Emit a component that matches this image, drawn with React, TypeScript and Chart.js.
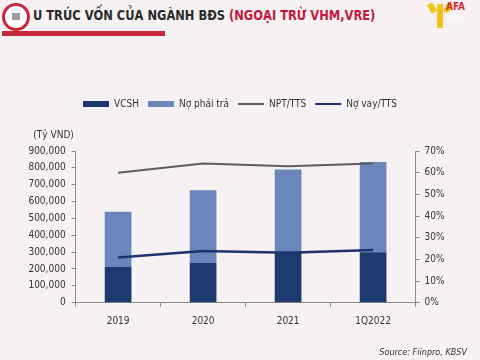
import React, { useEffect, useRef } from 'react';
import { Chart, registerables } from 'chart.js';

Chart.register(...registerables);

// ---- Data ----
const categories = ['2019', '2020', '2021', '1Q2022'];
const vcsh = [213000, 237000, 302000, 300000];
const noPhaiTra = [327000, 430000, 488000, 535000];
const nptTts = [60, 64.2, 63, 64.2];
const noVayTts = [20.9, 23.9, 23, 24.3];
const seriesLabels = ['VCSH', 'Nợ phải trả', 'NPT/TTS', 'Nợ vay/TTS'];
const leftMax = 900000;
const leftStep = 100000;
const rightMax = 70;
const rightStep = 10;
const unitLabel = '(Tỷ VND)';
const titleDark = 'U TRÚC VỐN CỦA NGÀNH BĐS ';
const titleRed = '(NGOẠI TRỪ VHM,VRE)';
const sourceText = 'Source: Fiinpro, KBSV';

const FONT = "'Liberation Sans Narrow', 'Arial Narrow', 'DejaVu Sans Condensed', sans-serif";
const BG = '#f6f1f3';
const AXIS = '#8a8a8a';
const TEXT = '#333333';

const unitPlugin = {
  id: 'unitLabel',
  afterDraw(chart: any) {
    const ctx = chart.ctx;
    const y = chart.scales.y;
    ctx.save();
    ctx.font = `10px ${FONT}`;
    ctx.fillStyle = TEXT;
    ctx.textAlign = 'center';
    ctx.textBaseline = 'middle';
    ctx.fillText(unitLabel, y.right - 22, chart.chartArea.top - 16);
    ctx.restore();
  },
};

export default function App() {
  const ref = useRef<HTMLCanvasElement | null>(null);

  useEffect(() => {
    if (!ref.current) return;
    const chart = new Chart(ref.current, {
      type: 'bar',
      data: {
        labels: categories,
        datasets: [
          {
            type: 'bar',
            label: seriesLabels[0],
            data: vcsh,
            backgroundColor: '#1d3a6f',
            borderWidth: 0,
            yAxisID: 'y',
            stack: 's',
            order: 2,
          },
          {
            type: 'bar',
            label: seriesLabels[1],
            data: noPhaiTra,
            backgroundColor: '#6987bb',
            borderWidth: 0,
            yAxisID: 'y',
            stack: 's',
            order: 2,
          },
          {
            type: 'line',
            label: seriesLabels[2],
            data: nptTts,
            borderColor: '#5f5f5f',
            backgroundColor: '#5f5f5f',
            borderWidth: 2,
            pointRadius: 0,
            tension: 0,
            yAxisID: 'y1',
            order: 1,
          },
          {
            type: 'line',
            label: seriesLabels[3],
            data: noVayTts,
            borderColor: '#1e3170',
            backgroundColor: '#1e3170',
            borderWidth: 2.5,
            pointRadius: 0,
            tension: 0,
            yAxisID: 'y1',
            order: 0,
          },
        ] as any,
      },
      options: {
        responsive: false,
        animation: false,
        devicePixelRatio: 1,
        font: { family: FONT, size: 10 },
        layout: { padding: { top: 90, left: 0, right: 0, bottom: 0 } },
        datasets: {
          bar: { barPercentage: 0.314, categoryPercentage: 1 },
        },
        plugins: {
          tooltip: { enabled: false },
          title: {
            display: true,
            text: '',
            position: 'top',
            weight: 500,
            font: { size: 10, lineHeight: 1.2 },
            padding: { top: 0, bottom: 20 },
          },
          legend: {
            display: true,
            position: 'top',
            align: 'center',
            labels: {
              usePointStyle: true,
              pointStyleWidth: 26,
              boxWidth: 26,
              boxHeight: 6,
              padding: 9,
              color: TEXT,
              font: { family: FONT, size: 10 },
              sort: (a: any, b: any) => a.datasetIndex - b.datasetIndex,
              generateLabels: (c: any) =>
                c.data.datasets.map((ds: any, i: number) => ({
                  text: ds.label,
                  fillStyle: ds.type === 'line' ? 'rgba(0,0,0,0)' : ds.backgroundColor,
                  strokeStyle: ds.type === 'line' ? ds.borderColor : ds.backgroundColor,
                  lineWidth: ds.type === 'line' ? 2 : 0,
                  pointStyle: ds.type === 'line' ? 'line' : 'rect',
                  hidden: false,
                  datasetIndex: i,
                  fontColor: TEXT,
                })),
            },
          },
        },
        scales: {
          x: {
            stacked: true,
            offset: true,
            grid: {
              display: true,
              drawOnChartArea: false,
              drawTicks: true,
              tickLength: 4,
              offset: true,
              color: AXIS,
            },
            border: { display: true, color: AXIS, width: 1 },
            ticks: { padding: 9, color: TEXT, font: { family: FONT, size: 10 } },
            afterFit: (s: any) => {
              s.height = 57.3;
            },
          },
          y: {
            type: 'linear',
            position: 'left',
            stacked: true,
            min: 0,
            max: leftMax,
            grid: { drawOnChartArea: false, drawTicks: true, tickLength: 4, color: AXIS },
            border: { display: true, color: AXIS, width: 1 },
            ticks: {
              stepSize: leftStep,
              padding: 6,
              color: TEXT,
              font: { family: FONT, size: 10 },
              callback: (v: any) => Number(v).toLocaleString('en-US'),
            },
            afterFit: (s: any) => {
              s.width = 75.6;
            },
          },
          y1: {
            type: 'linear',
            position: 'right',
            min: 0,
            max: rightMax,
            grid: { drawOnChartArea: false, drawTicks: true, tickLength: 4, color: AXIS },
            border: { display: true, color: AXIS, width: 1 },
            ticks: {
              stepSize: rightStep,
              padding: 5,
              color: TEXT,
              font: { family: FONT, size: 10 },
              callback: (v: any) => `${v}%`,
            },
            afterFit: (s: any) => {
              s.width = 64.4;
            },
          },
        },
      } as any,
      plugins: [unitPlugin],
    });
    return () => chart.destroy();
  }, []);

  return (
    <div
      style={{
        position: 'fixed',
        left: 0,
        top: 0,
        width: 480,
        height: 360,
        background: BG,
        overflow: 'hidden',
        fontFamily: FONT,
      }}
    >
      {/* left logo */}
      <div
        style={{
          position: 'absolute',
          left: 2,
          top: 3,
          width: 22,
          height: 22,
          borderRadius: '50%',
          border: '3px solid #c8283c',
          background: '#ffffff',
        }}
      >
        <div
          style={{
            position: 'absolute',
            left: 7,
            top: 7,
            width: 8,
            height: 7,
            background: '#9a9a9a',
          }}
        />
      </div>
      {/* title */}
      <div
        style={{
          position: 'absolute',
          left: 33,
          top: 5,
          fontSize: 14,
          fontWeight: 'bold',
          whiteSpace: 'nowrap',
          lineHeight: '20px',
          transform: 'scaleX(0.91)',
          transformOrigin: 'left center',
        }}
      >
        <span style={{ color: '#2a2a2a' }}>{titleDark}</span>
        <span style={{ color: '#c4183f' }}>{titleRed}</span>
      </div>
      {/* underline */}
      <div
        style={{
          position: 'absolute',
          left: 2,
          top: 31,
          width: 163,
          height: 5,
          background: '#c8283c',
        }}
      />
      {/* right logo */}
      <div style={{ position: 'absolute', left: 437, top: 4, width: 6, height: 24, background: '#f0c419' }} />
      <div style={{ position: 'absolute', left: 429, top: 3, width: 6, height: 10, background: '#f0c419', transform: 'rotate(-30deg)' }} />
      <div style={{ position: 'absolute', left: 445, top: 3, width: 6, height: 10, background: '#f0c419', transform: 'rotate(30deg)' }} />
      <div
        style={{
          position: 'absolute',
          left: 446,
          top: 2,
          fontSize: 10,
          fontWeight: 'bold',
          color: '#d0283a',
          lineHeight: '10px',
        }}
      >
        AFA
      </div>
      <div
        style={{
          position: 'absolute',
          left: 447,
          top: 13,
          fontSize: 8,
          color: '#ffffff',
          lineHeight: '8px',
        }}
      >
        Boss
      </div>
      <canvas
        ref={ref}
        width={480}
        height={360}
        style={{ position: 'absolute', left: 0, top: 0, width: 480, height: 360 }}
      />
      <div
        style={{
          position: 'absolute',
          right: 13,
          top: 346,
          fontSize: 9,
          fontStyle: 'italic',
          color: '#333',
          whiteSpace: 'nowrap',
          lineHeight: '12px',
        }}
      >
        {sourceText}
      </div>
    </div>
  );
}
